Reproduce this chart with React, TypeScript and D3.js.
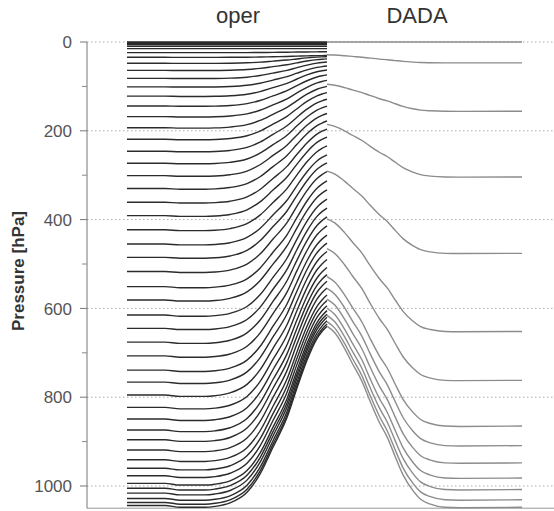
import * as d3 from 'd3';

// pressure axis
const majorTicks = [0, 200, 400, 600, 800, 1000];
const minorTicks = [100, 300, 500, 700, 900];

// oper: model levels (hPa) at the left edge and at the mountain top
const operLeft = [0, 1.5, 3.4, 5.6, 9.7, 15, 24, 34.5, 48, 64, 82, 101, 122, 144, 168, 193, 219, 246, 273, 301,
  330, 361, 391, 423, 455, 485, 517, 551, 581, 615, 645, 676, 707, 739, 766, 795, 823, 849, 874, 896,
  919, 941, 960, 977, 994, 1005, 1016, 1028, 1037, 1044];
const operPeak = [0, 1.5, 3.4, 5.6, 9.7, 15, 22, 30.5, 33, 38, 45, 54, 63, 74, 86.5, 100, 114, 129, 144.5, 161,
  178, 196, 214, 234, 254, 272, 292, 313, 333, 354, 374, 394, 414, 435, 453, 472, 490, 508, 524, 539,
  554, 570, 582, 594, 605, 613, 620, 628, 635, 640];
// oper surface pressure along the section (distance 0..100)
const operDist = [0, 19, 26.5, 39, 44, 51.5, 60, 66.5, 73, 80, 85, 90, 95, 97.5, 100];
const operSurface = [1046, 1046, 1050, 1050, 1048, 1040, 1016, 975, 914, 847, 780, 717, 668, 652, 640];
const PS_REF = 1046;
const PS_TOP = 640;

// DADA: sigma levels, given as pressure over the flat part (hPa)
const dadaLevels = [0, 47, 156, 304, 476, 652, 762, 865, 909, 948, 982, 1008, 1031, 1048];
const dadaDist = [0, 4, 9, 13, 18, 22, 27, 31, 35, 39, 44, 48, 53, 60.5, 68, 100];
const dadaSurface = [640, 655, 690, 724, 765, 808, 858, 891, 934, 975, 1010, 1030, 1041, 1048, 1049, 1048];
const DADA_REF = 1048;

const W = 554;
const H = 511;

export default function App() {
  const y = d3.scaleLinear().domain([0, 1050]).range([42, 508.2]);
  const xOper = d3.scaleLinear().domain([0, 100]).range([127, 327]);
  const xDada = d3.scaleLinear().domain([0, 100]).range([327, 522]);
  const axisX = 87;

  const line = d3.line<[number, number]>()
    .x(d => d[0])
    .y(d => d[1])
    .curve(d3.curveMonotoneX);

  const operPaths = operLeft.map((pl, i) => {
    const pp = operPeak[i];
    const pts: [number, number][] = operDist.map((d, j) => {
      const f = (PS_REF - operSurface[j]) / (PS_REF - PS_TOP);
      return [xOper(d), y(pl + (pp - pl) * f)];
    });
    return line(pts);
  });

  const dadaPaths = dadaLevels.map(lv => {
    const pts: [number, number][] = dadaDist.map((d, j) => [xDada(d), y(lv * dadaSurface[j] / DADA_REF)]);
    return line(pts);
  });

  return (
    <svg width={W} height={H} style={{ position: 'absolute', left: 0, top: 0, background: '#fff' }}
      fontFamily="'Liberation Sans', Arial, sans-serif">
      {/* grid */}
      {majorTicks.map(t => (
        <line key={'g' + t} x1={axisX} x2={W} y1={y(t)} y2={y(t)}
          stroke="#aaa" strokeWidth={1} strokeDasharray="1.5,2.5" />
      ))}
      <line x1={axisX} x2={W} y1={y(1050)} y2={y(1050)} stroke="#999" strokeWidth={1} />

      {/* y axis */}
      <line x1={axisX} x2={axisX} y1={y(0)} y2={y(1050)} stroke="#777" strokeWidth={1} />
      {majorTicks.map(t => (
        <g key={'t' + t}>
          <line x1={axisX - 7} x2={axisX} y1={y(t)} y2={y(t)} stroke="#777" />
          <text x={72} y={y(t)} dy="0.36em" textAnchor="end" fontSize={17} fill="#555">{t}</text>
        </g>
      ))}
      {minorTicks.map(t => (
        <line key={'m' + t} x1={axisX - 5} x2={axisX} y1={y(t)} y2={y(t)} stroke="#888" />
      ))}
      <text transform="translate(24,271) rotate(-90)" textAnchor="middle" fontSize={17}
        fontWeight="bold" fill="#333">Pressure [hPa]</text>

      {/* oper */}
      {operPaths.map((d, i) => (
        <path key={'o' + i} d={d || ''} fill="none" stroke="#2b2b2b" strokeWidth={1.4} />
      ))}

      {/* DADA */}
      {dadaPaths.map((d, i) => (
        <path key={'d' + i} d={d || ''} fill="none" stroke="#8c8c8c" strokeWidth={1.4} />
      ))}

      <text x={238} y={23} textAnchor="middle" fontSize={22} fill="#333">oper</text>
      <text x={417} y={23} textAnchor="middle" fontSize={22} fill="#333">DADA</text>
    </svg>
  );
}
